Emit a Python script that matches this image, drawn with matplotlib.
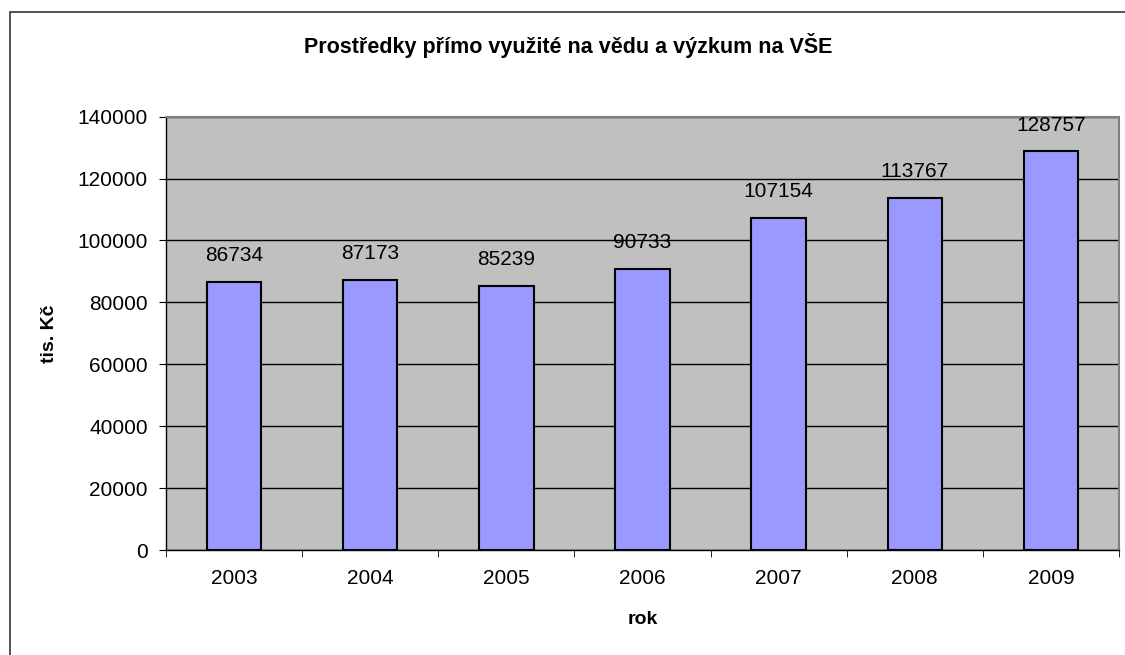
import numpy as np
import matplotlib.pyplot as plt
from matplotlib.patches import Rectangle

plt.rcParams['font.family'] = ['Liberation Sans', 'DejaVu Sans']

#data
years = ["2003", "2004", "2005", "2006", "2007", "2008", "2009"]
values = [86734, 87173, 85239, 90733, 107154, 113767, 128757]
yticks = [0, 20000, 40000, 60000, 80000, 100000, 120000, 140000]

fig = plt.figure(figsize=(11.25, 6.55), dpi=100)
ax = fig.add_axes([166/1125, 1 - 550/655, (1119 - 166)/1125, (550 - 116.7)/655])

#outer chart frame (cut off at right and bottom)
fig.patches.append(Rectangle((10/1125, -0.05), 1.1, 1 - 12/655 + 0.05, transform=fig.transFigure,
                             fill=False, edgecolor="#333333", linewidth=1.2))

x = np.arange(len(years))
ax.set_facecolor("#C0C0C0")
ax.bar(x, values, width=0.4, color="#9999FF", edgecolor="black", linewidth=1.5, zorder=3)

for xi, v in zip(x, values):
    ax.annotate(str(v), (xi, v), xytext=(0, 19), textcoords="offset points",
                ha="center", va="center", fontsize=15)

ax.set_xlim(-0.5, len(years) - 0.5)
ax.set_ylim(0, 140000)
ax.set_yticks(yticks)
ax.set_yticklabels([str(t) for t in yticks], fontsize=15)
ax.grid(axis="y", color="black", linewidth=1, zorder=1)
ax.set_axisbelow(True)

ax.set_xticks(x)
ax.set_xticklabels(years, fontsize=15)
ax.set_xticks(np.arange(-0.5, len(years)), minor=True)
ax.tick_params(axis="x", which="major", length=0, pad=14)
ax.tick_params(axis="x", which="minor", length=5, direction="out")
ax.tick_params(axis="y", length=5, direction="out", pad=8)

for s in ["left", "bottom"]:
    ax.spines[s].set_color("black")
    ax.spines[s].set_linewidth(1)
for s in ["top", "right"]:
    ax.spines[s].set_color("#808080")
    ax.spines[s].set_linewidth(1.5)

ax.set_xlabel("rok", fontsize=14, fontweight="bold", labelpad=16)
ax.set_ylabel("tis. Kč", fontsize=14, fontweight="bold", labelpad=14)
fig.text(568/1125, 1 - 45/655, "Prostředky přímo využité na vědu a výzkum na VŠE",
         ha="center", va="center", fontsize=15.5, fontweight="bold")

plt.savefig("out.png", dpi=100)
